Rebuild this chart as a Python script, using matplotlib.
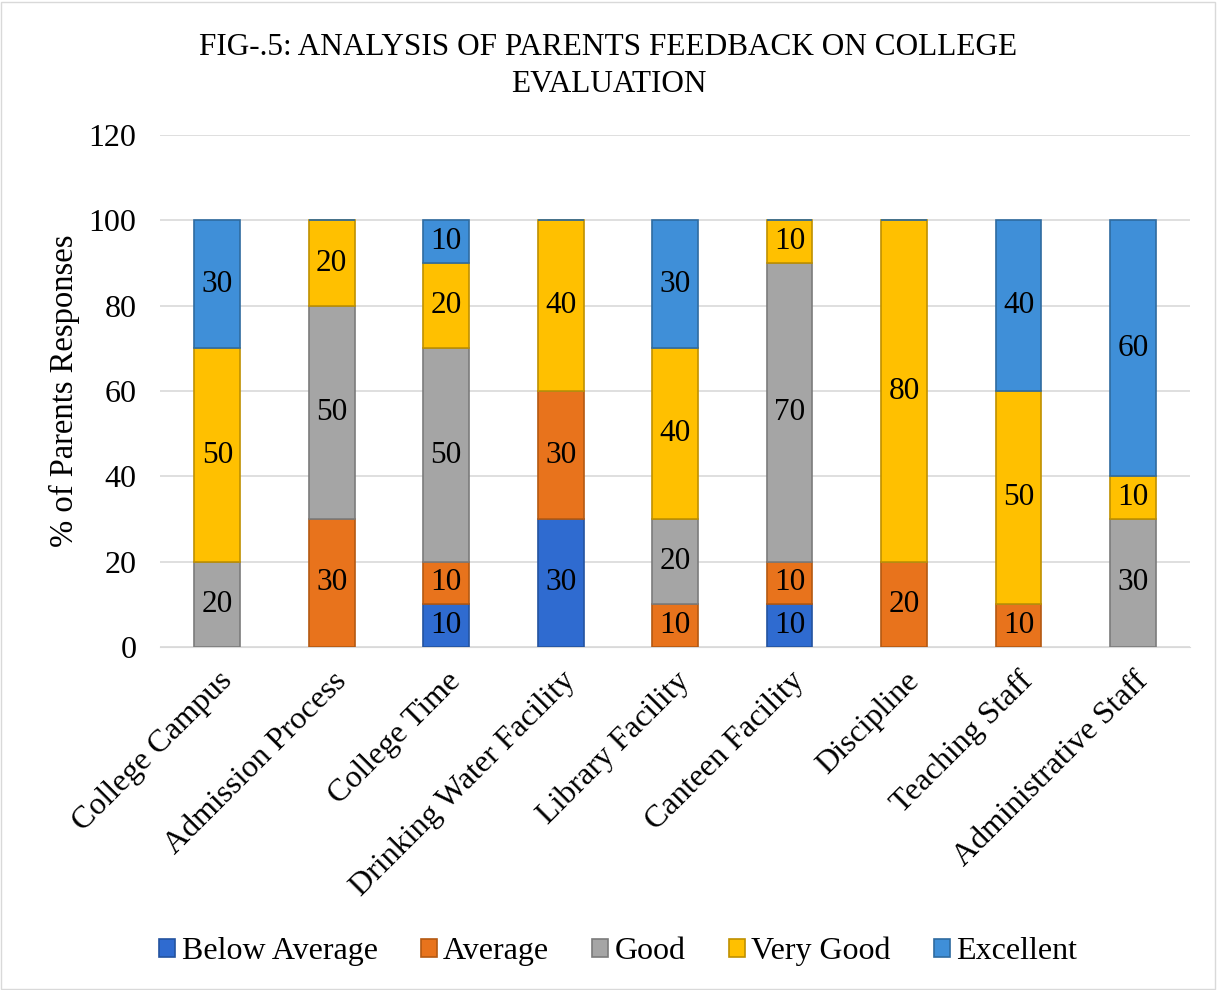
import matplotlib.pyplot as plt
import numpy as np
from matplotlib.patches import Rectangle

categories = ["College Campus", "Admission Process", "College Time",
              "Drinking Water Facility", "Library Facility", "Canteen Facility",
              "Discipline", "Teaching Staff", "Administrative Staff"]
series_names = ["Below Average", "Average", "Good", "Very Good", "Excellent"]
below_average = [0, 0, 10, 30, 0, 10, 0, 0, 0]
average = [0, 30, 10, 30, 10, 10, 20, 10, 0]
good = [20, 50, 50, 0, 20, 70, 0, 0, 30]
very_good = [50, 20, 20, 40, 40, 10, 80, 50, 10]
excellent = [30, 0, 10, 0, 30, 0, 0, 40, 60]
series = [below_average, average, good, very_good, excellent]
colors = ["#2F6BD0", "#E8731C", "#A5A5A5", "#FFC000", "#3F8FD8"]
edges = ["#24539F", "#B45912", "#7B7B7B", "#BF9000", "#2F6BA0"]

plt.rcParams['font.family'] = ['Liberation Serif', 'DejaVu Serif']

fig = plt.figure(figsize=(12.17, 9.9), dpi=100)
ax = fig.add_axes([0.1315, 0.3465, 0.8465, 0.517])
fig.patches.append(Rectangle((0.001, 0.001), 0.997, 0.997, transform=fig.transFigure,
                             fill=False, edgecolor="#D9D9D9", linewidth=1))

x = np.arange(len(categories))
bottom = np.zeros(len(categories))
for name, vals, c, ec in zip(series_names, series, colors, edges):
    vals = np.array(vals, dtype=float)
    ax.bar(x, vals, 0.4, bottom=bottom, color=c, edgecolor=ec,
           linewidth=1.2, label=name, zorder=3)
    for xi, b, v in zip(x, bottom, vals):
        if v > 0:
            ax.text(xi, b + v / 2, f"{int(v)}", ha='center', va='center',
                    fontsize=22.5, zorder=4)
    bottom += vals

ax.set_xlim(-0.5, len(categories) - 0.5)
ax.set_ylim(0, 120)
ax.set_yticks(range(0, 121, 20))
ax.yaxis.grid(True, color="#D9D9D9", linewidth=1.2, zorder=0)
ax.set_axisbelow(True)
for s in ax.spines.values():
    s.set_visible(False)
ax.spines['bottom'].set_visible(True)
ax.spines['bottom'].set_color("#D9D9D9")
ax.tick_params(axis='both', length=0, labelsize=23)
ax.tick_params(axis='y', pad=17)
ax.set_xticks(x)
ax.set_xticklabels(categories, rotation=45, ha='right', rotation_mode='anchor')
ax.tick_params(axis='x', pad=14)
ax.set_ylabel("% of Parents Responses", fontsize=23.5, labelpad=6)

fig.text(0.5, 0.933, "FIG-.5: ANALYSIS OF PARENTS FEEDBACK ON COLLEGE\nEVALUATION",
         ha='center', va='center', fontsize=22.5, linespacing=1.35)

fig.legend(loc='center', bbox_to_anchor=(0.508, 0.039), ncol=5, frameon=False,
           fontsize=23, handlelength=0.5, handleheight=0.5, handletextpad=0.2,
           columnspacing=1.35)

fig.savefig("out.png", dpi=100)
